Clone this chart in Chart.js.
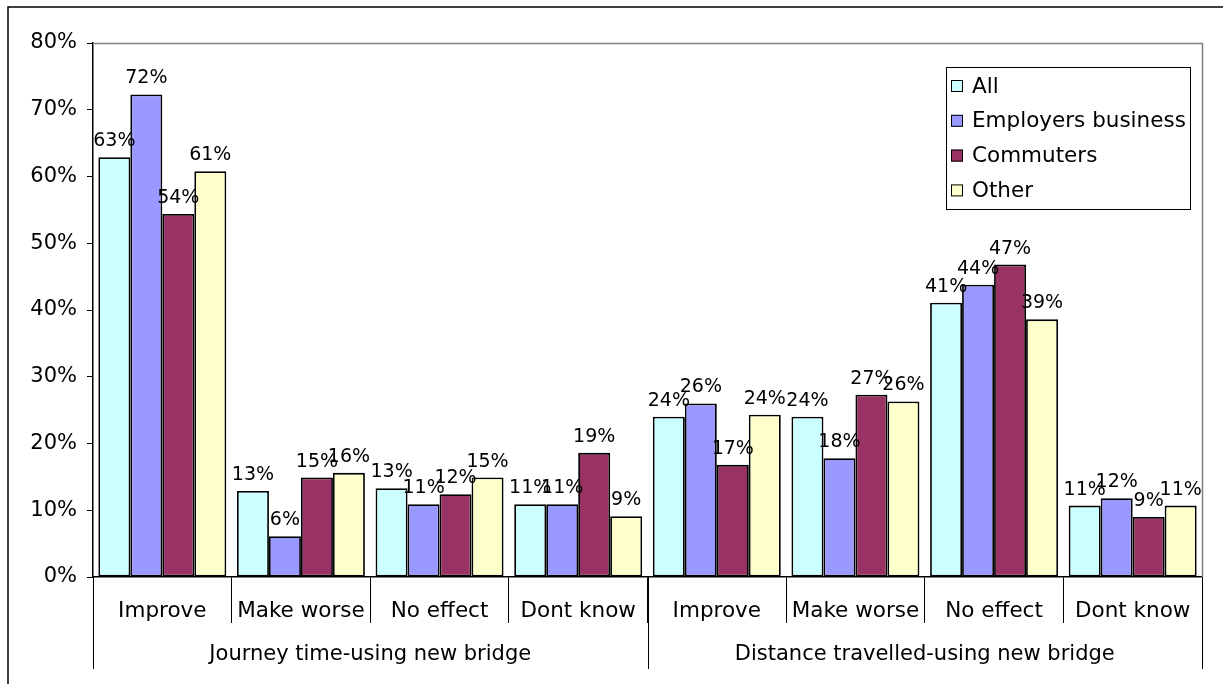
<!DOCTYPE html>
<html>
<head>
<meta charset="utf-8">
<script src="https://cdn.jsdelivr.net/npm/chart.js@4.4.1/dist/chart.umd.min.js"></script>
<style>
  html, body { margin: 0; padding: 0; background: #fff; }
</style>
</head>
<body>
<canvas id="chart" width="1223" height="684"></canvas>
<script>
// categories and the two groups they belong to (4 each)
const categories = ["Improve", "Make worse", "No effect", "Dont know",
                    "Improve", "Make worse", "No effect", "Dont know"];
const groups = ["Journey time-using new bridge", "Distance travelled-using new bridge"];
const groupSize = 4;

const seriesNames = ["All", "Employers business", "Commuters", "Other"];
const allValues       = [62.9, 12.9, 13.3, 10.9, 24.0, 24.0, 41.1, 10.7];
const employersValues = [72.3,  6.1, 10.9, 10.9, 26.0, 17.8, 43.8, 11.8];
const commutersValues = [54.4, 14.9, 12.4, 18.6, 16.8, 27.3, 46.8,  9.0];
const otherValues     = [60.8, 15.6, 14.9,  9.1, 24.3, 26.3, 38.6, 10.7];

const yMax = 80;
const yStep = 10;

const seriesColors = ["#CCFFFF", "#9999FF", "#993366", "#FFFFCC"];
const FONT = "'DejaVu Sans', Verdana, sans-serif";

const seriesValues = [allValues, employersValues, commutersValues, otherValues];

// labels above bars, group labels, separators, frame and boxed legend
const decorations = {
  id: "decorations",
  afterDraw(chart) {
    const ctx = chart.ctx;
    const xs = chart.scales.x;
    const area = chart.chartArea;
    const half = (xs.getPixelForValue(1) - xs.getPixelForValue(0)) / 2;
    const groupBottom = 669;

    ctx.save();

    // plot area border (grey, top and right)
    ctx.strokeStyle = "#808080";
    ctx.lineWidth = 1.5;
    ctx.beginPath();
    ctx.moveTo(area.left, area.top + 0.5);
    ctx.lineTo(area.right + 0.5, area.top + 0.5);
    ctx.lineTo(area.right + 0.5, area.bottom);
    ctx.stroke();

    // value labels
    ctx.fillStyle = "#000";
    ctx.font = "19px " + FONT;
    ctx.textAlign = "center";
    ctx.textBaseline = "alphabetic";
    chart.data.datasets.forEach((ds, i) => {
      chart.getDatasetMeta(i).data.forEach((bar, j) => {
        ctx.fillText(Math.round(ds.data[j]) + "%", bar.x, bar.y - 11);
      });
    });

    // group separators and y axis extension
    ctx.strokeStyle = "#000";
    ctx.lineWidth = 1;
    for (let g = 0; g <= groups.length; g++) {
      const idx = g * groupSize;
      const x = Math.round(xs.getPixelForValue(Math.min(idx, categories.length - 1)) + (idx < categories.length ? -half : half)) + 0.5;
      ctx.beginPath();
      ctx.moveTo(x, area.bottom);
      ctx.lineTo(x, groupBottom);
      ctx.stroke();
    }

    // group labels
    ctx.font = "21px " + FONT;
    ctx.textBaseline = "middle";
    groups.forEach((name, g) => {
      const a = xs.getPixelForValue(g * groupSize) - half;
      const b = xs.getPixelForValue(g * groupSize + groupSize - 1) + half;
      ctx.fillText(name, (a + b) / 2, 655);
    });

    // outer frame (top and left)
    ctx.strokeStyle = "#000";
    ctx.lineWidth = 1.5;
    ctx.beginPath();
    ctx.moveTo(8, chart.height);
    ctx.lineTo(8, 7);
    ctx.lineTo(chart.width, 7);
    ctx.stroke();

    // legend
    const lx = 946, ly = 67, lw = 244, lh = 142;
    ctx.fillStyle = "#fff";
    ctx.fillRect(lx, ly, lw, lh);
    ctx.strokeStyle = "#000";
    ctx.lineWidth = 1;
    ctx.strokeRect(lx + 0.5, ly + 0.5, lw, lh);
    ctx.textAlign = "left";
    ctx.font = "21.5px " + FONT;
    chart.data.datasets.forEach((ds, i) => {
      const cy = ly + 19 + i * 34.8;
      ctx.fillStyle = ds.backgroundColor;
      ctx.fillRect(lx + 5, cy - 6, 12, 12);
      ctx.strokeRect(lx + 5.5, cy - 5.5, 11, 11);
      ctx.fillStyle = "#000";
      ctx.fillText(ds.label, lx + 26, cy + 1);
    });

    ctx.restore();
  }
};

new Chart(document.getElementById("chart"), {
  type: "bar",
  data: {
    labels: categories,
    datasets: seriesNames.map((name, i) => ({
      label: name,
      data: seriesValues[i],
      backgroundColor: seriesColors[i],
      borderColor: "#000",
      borderWidth: 1.8,
      borderSkipped: false,
      categoryPercentage: 0.923,
      barPercentage: 1
    }))
  },
  options: {
    responsive: false,
    animation: false,
    layout: { padding: { top: 43, right: 21, left: 0, bottom: 0 } },
    plugins: {
      legend: { display: false },
      tooltip: { enabled: false }
    },
    scales: {
      x: {
        afterFit: s => { s.height = 107; },
        grid: { display: true, drawOnChartArea: false, offset: true, tickLength: 46, color: "#000", lineWidth: 1 },
        border: { display: true, color: "#000", width: 1.5 },
        ticks: { color: "#000", font: { family: FONT, size: 21.5 }, padding: -24, maxRotation: 0, autoSkip: false }
      },
      y: {
        min: 0,
        max: yMax,
        afterFit: s => { s.width = 93; },
        grid: { drawOnChartArea: false, tickLength: 6, color: "#000", lineWidth: 1 },
        border: { display: true, color: "#000", width: 1.5 },
        ticks: {
          stepSize: yStep,
          color: "#000",
          padding: 10,
          font: { family: FONT, size: 21 },
          callback: v => v + "%"
        }
      }
    }
  },
  plugins: [decorations]
});
</script>
</body>
</html>
